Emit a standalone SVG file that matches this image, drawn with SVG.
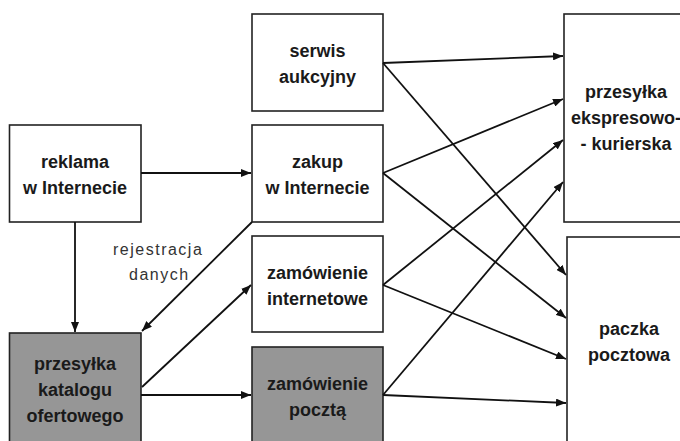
<svg xmlns="http://www.w3.org/2000/svg" width="680" height="441" viewBox="0 0 680 441">
<defs>
<style>
.box{fill:#fff;stroke:#222;stroke-width:1.6}
.dark{fill:#969696;stroke:#222;stroke-width:1.6}
.t{font-family:"Liberation Sans",Arial,sans-serif;font-weight:bold;font-size:18px;fill:#1a1a1a;text-anchor:middle}
.lbl{font-family:"Liberation Sans",Arial,sans-serif;font-size:16px;fill:#333;letter-spacing:1.5px}
.c{stroke:#111;stroke-width:1.8;fill:none;marker-end:url(#ah)}
</style>
<marker id="ah" viewBox="0 0 10 8" refX="10" refY="4" markerWidth="10" markerHeight="8" markerUnits="userSpaceOnUse" orient="auto">
<path d="M0,0 L10,4 L0,8 Z" fill="#111"/>
</marker>
</defs>
<rect width="680" height="441" fill="#fff"/>
<g id="reklama"><rect class="box" x="9.5" y="125" width="131.5" height="97"/><text class="t" x="75" y="168">reklama</text><text class="t" x="75" y="194">w Internecie</text></g>
<g id="katalog"><rect class="dark" x="9.5" y="333" width="131.5" height="115"/><text class="t" x="75" y="370">przesyłka</text><text class="t" x="75" y="396">katalogu</text><text class="t" x="75" y="422">ofertowego</text></g>
<g id="serwis"><rect class="box" x="252" y="14" width="131" height="97"/><text class="t" x="317.5" y="57">serwis</text><text class="t" x="317.5" y="83">aukcyjny</text></g>
<g id="zakup"><rect class="box" x="252" y="125" width="131" height="97"/><text class="t" x="317.5" y="168">zakup</text><text class="t" x="317.5" y="194">w Internecie</text></g>
<g id="zam-int"><rect class="box" x="252" y="236" width="131" height="96"/><text class="t" x="317.5" y="279">zamówienie</text><text class="t" x="317.5" y="305">internetowe</text></g>
<g id="zam-poczta"><rect class="dark" x="252" y="347" width="131" height="100"/><text class="t" x="317.5" y="390">zamówienie</text><text class="t" x="317.5" y="416">pocztą</text></g>
<g id="ekspres"><rect class="box" x="564" y="14" width="130" height="208"/><text class="t" x="626" y="98">przesyłka</text><text class="t" x="626" y="124">ekspresowo-</text><text class="t" x="626" y="150">- kurierska</text></g>
<g id="paczka"><rect class="box" x="567" y="237" width="130" height="210"/><text class="t" x="629" y="335">paczka</text><text class="t" x="629" y="361">pocztowa</text></g>
<g id="connectors">
<line class="c" x1="141" y1="173" x2="251" y2="173"/>
<line class="c" x1="75" y1="222" x2="75" y2="332"/>
<line class="c" x1="252" y1="222" x2="142" y2="331"/>
<line class="c" x1="142" y1="387" x2="251" y2="285"/>
<line class="c" x1="141" y1="395" x2="251" y2="395"/>
<line class="c" x1="383" y1="63" x2="563" y2="56"/>
<line class="c" x1="383" y1="63" x2="566" y2="275"/>
<line class="c" x1="383" y1="173" x2="563" y2="99"/>
<line class="c" x1="383" y1="173" x2="566" y2="318"/>
<line class="c" x1="383" y1="285" x2="563" y2="140"/>
<line class="c" x1="383" y1="285" x2="566" y2="359"/>
<line class="c" x1="383" y1="395" x2="563" y2="182"/>
<line class="c" x1="383" y1="395" x2="566" y2="403"/>
<text class="lbl" x="113" y="255">rejestracja</text>
<text class="lbl" x="129" y="280">danych</text>
</g>
</svg>
